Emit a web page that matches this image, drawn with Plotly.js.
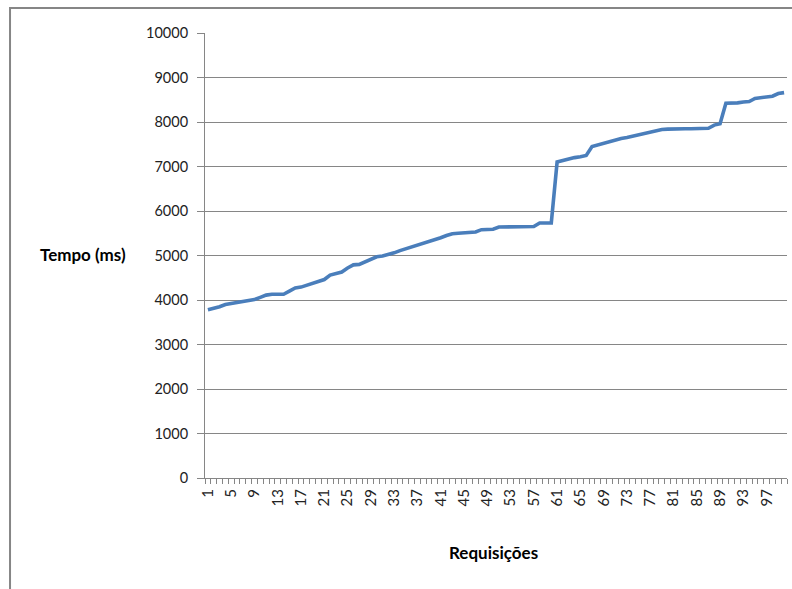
<!DOCTYPE html>
<html>
<head>
<meta charset="utf-8">
<script src="https://cdn.plot.ly/plotly-3.0.1.min.js"></script>
<style>
html,body{margin:0;padding:0;background:#fff;}
#chart{width:792px;height:589px;}
</style>
</head>
<body>
<div id="chart"></div>
<script>
// Requests (1..100)
const requisicoes = Array.from({length: 100}, (_, i) => i + 1);
// Response time in ms
const tempoMs = [
  3780, 3810, 3850, 3900, 3920, 3950, 3970, 3990, 4010, 4060,
  4110, 4130, 4130, 4130, 4200, 4270, 4290, 4330, 4380, 4420,
  4460, 4560, 4590, 4630, 4720, 4790, 4800, 4860, 4920, 4970,
  4990, 5020, 5060, 5110, 5150, 5190, 5220, 5260, 5310, 5350,
  5400, 5450, 5490, 5500, 5510, 5520, 5530, 5580, 5590, 5590,
  5640, 5640, 5640, 5640, 5640, 5640, 5650, 5730, 5730, 5730,
  7100, 7140, 7180, 7200, 7220, 7250, 7450, 7490, 7520, 7560,
  7600, 7630, 7650, 7680, 7710, 7740, 7770, 7810, 7830, 7840,
  7850, 7850, 7850, 7850, 7850, 7850, 7860, 7930, 7960, 8420,
  8420, 8430, 8450, 8460, 8530, 8550, 8560, 8580, 8640, 8660
];
const xTickVals = [1,5,9,13,17,21,25,29,33,37,41,45,49,53,57,61,65,69,73,77,81,85,89,93,97];
const xTickText = xTickVals.map(String);
const yTickVals = [0,1000,2000,3000,4000,5000,6000,7000,8000,9000,10000];
const yTickText = yTickVals.map(String);
const yAxisTitle = 'Tempo (ms)';
const xAxisTitle = 'Requisições';

const gray = '#868686';
const font = 'Lato, "Liberation Sans", sans-serif';

const trace = {
  x: requisicoes,
  y: tempoMs,
  type: 'scatter',
  mode: 'lines',
  line: {color: '#4A7EBB', width: 3.6},
  hoverinfo: 'skip'
};

const layout = {
  width: 792,
  height: 589,
  margin: {l: 205, r: 5, t: 33, b: 111},
  paper_bgcolor: '#fff',
  plot_bgcolor: '#fff',
  showlegend: false,
  font: {family: font, color: '#000'},
  xaxis: {
    range: [0.5, 100.5],
    tickmode: 'array',
    tickvals: xTickVals,
    ticktext: xTickText,
    tickangle: -90,
    tickfont: {family: font, size: 15, color: '#222'},
    ticks: '',
    showgrid: false,
    zeroline: false,
    showline: true,
    linecolor: gray,
    linewidth: 1,
    ticklabelstandoff: 4,
    minor: {tick0: 0.5, dtick: 1, ticks: 'outside', ticklen: 5, tickcolor: gray, tickwidth: 1, showgrid: false},
    fixedrange: true
  },
  yaxis: {
    range: [0, 10000],
    tickmode: 'array',
    tickvals: yTickVals,
    ticktext: yTickText,
    tickfont: {family: font, size: 14.5, color: '#222'},
    ticks: 'outside',
    ticklen: 7,
    tickcolor: gray,
    showgrid: true,
    gridcolor: gray,
    gridwidth: 1,
    zeroline: false,
    showline: true,
    linecolor: gray,
    linewidth: 1,
    ticklabelstandoff: 6,
    fixedrange: true
  },
  annotations: [
    {text: '<b>' + yAxisTitle + '</b>', xref: 'paper', yref: 'paper', x: -0.21, y: 0.502,
     xanchor: 'center', yanchor: 'middle', showarrow: false, font: {family: font, size: 17, color: '#000'}},
    {text: '<b>' + xAxisTitle + '</b>', xref: 'paper', yref: 'paper', x: 0.495, y: -0.168,
     xanchor: 'center', yanchor: 'middle', showarrow: false, font: {family: font, size: 17, color: '#000'}}
  ],
  shapes: [
    {type: 'rect', xref: 'paper', yref: 'paper', x0: -0.335, x1: 1.05, y0: -0.4, y1: 1.056,
     line: {color: gray, width: 2}, fillcolor: 'rgba(0,0,0,0)', layer: 'below'}
  ]
};

Plotly.newPlot('chart', [trace], layout, {displayModeBar: false, staticPlot: true});
</script>
</body>
</html>
